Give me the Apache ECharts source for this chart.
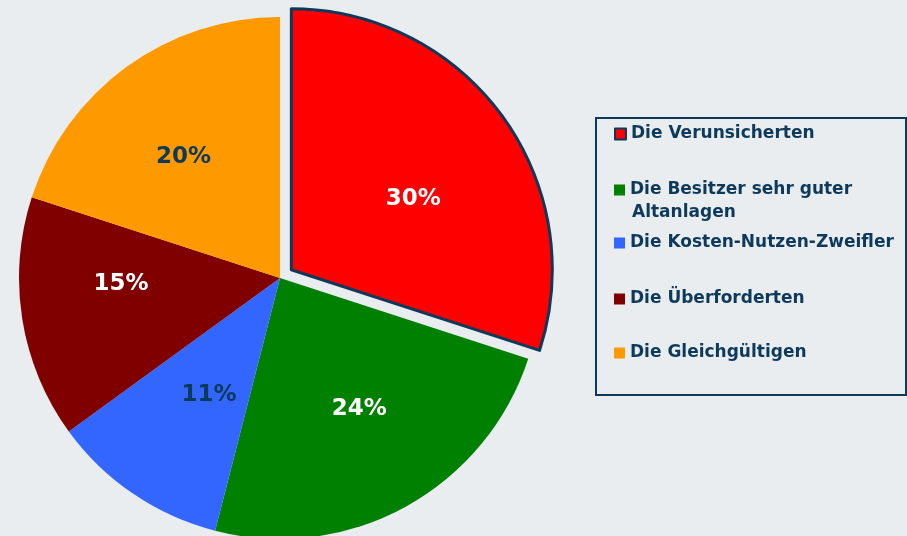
<!DOCTYPE html>
<html>
<head>
<meta charset="utf-8">
<script src="https://cdn.jsdelivr.net/npm/echarts@6/dist/echarts.min.js"></script>
<style>
  html, body { margin: 0; padding: 0; background: #e9edef; }
  #main { width: 907px; height: 536px; }
</style>
</head>
<body>
<div id="main"></div>
<script>
// Segmente (Uhrzeigersinn ab 12 Uhr)
var names = [
  "Die Verunsicherten",
  "Die Besitzer sehr guter Altanlagen",
  "Die Kosten-Nutzen-Zweifler",
  "Die Überforderten",
  "Die Gleichgültigen"
];
var values = [30, 24, 11, 15, 20];
var colors = ["#ff0000", "#008000", "#3366ff", "#800000", "#ff9900"];
var labelColors = ["#ffffff", "#ffffff", "#0d3a5a", "#ffffff", "#0d3a5a"];
// kleine Verschiebung der Prozent-Beschriftungen (wie im Original)
var labelNudge = [[14, 8], [15, 14], [4, 7], [-27, -15], [-18, -13]];
// Legende: Mittelpunkt jeder Zeile (y)
var legendRows = [134, 190, 243, 299, 353];

var navy = "#0d3a5a";

var pieData = names.map(function (n, i) {
  var d = {
    name: n,
    value: values[i],
    itemStyle: { color: colors[i] },
    label: { color: labelColors[i], offset: labelNudge[i] }
  };
  if (i === 0) {
    d.selected = true;
    d.itemStyle.borderColor = navy;
    d.itemStyle.borderWidth = 3;
    d.select = {
      itemStyle: { color: colors[i], borderColor: navy, borderWidth: 3 },
      label: { color: labelColors[i], offset: labelNudge[i] }
    };
  }
  return d;
});

var legends = names.map(function (n, i) {
  return {
    data: [n],
    orient: "vertical",
    left: 614,
    top: legendRows[i] - 10,
    padding: 0,
    icon: "rect",
    itemWidth: 11,
    itemHeight: 11,
    selectedMode: false,
    formatter: function (name) {
      // zweite Zeile steht als eigener Text darunter
      return name.replace(" Altanlagen", "");
    },
    textStyle: {
      color: navy,
      fontFamily: "DejaVu Sans",
      fontWeight: "bold",
      fontSize: 17,
      lineHeight: 20
    }
  };
});

var option = {
  backgroundColor: "#e9edef",
  animation: false,
  legend: legends,
  graphic: [
    {
      type: "rect",
      shape: { x: 596, y: 118, width: 310, height: 277 },
      style: { fill: "none", stroke: navy, lineWidth: 2 },
      silent: true
    },
    {
      type: "text",
      left: 632,
      top: 204,
      style: {
        text: "Altanlagen",
        fill: navy,
        font: "bold 17px 'DejaVu Sans'"
      },
      silent: true
    }
  ],
  series: [
    {
      type: "pie",
      center: [280, 278],
      radius: [0, 261],
      startAngle: 90,
      clockwise: true,
      selectedMode: "single",
      selectedOffset: 14,
      labelLine: { show: false },
      emphasis: { scale: false },
      label: {
        show: true,
        position: "inside",
        formatter: "{c}%",
        fontFamily: "DejaVu Sans",
        fontWeight: "bold",
        fontSize: 23
      },
      data: pieData
    }
  ]
};

var myChart = echarts.init(document.getElementById("main"));
myChart.setOption(option);
</script>
</body>
</html>
